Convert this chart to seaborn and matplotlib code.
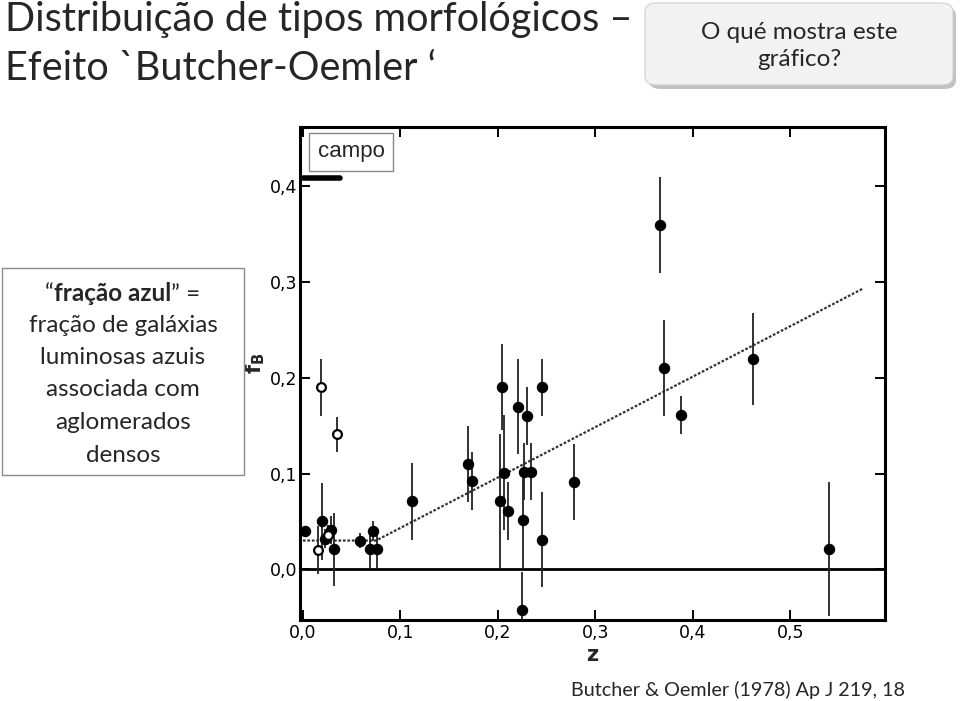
import numpy as np
import pandas as pd
import matplotlib
matplotlib.use("Agg")
import matplotlib.pyplot as plt
import seaborn as sns
from matplotlib.patches import FancyBboxPatch, Rectangle
from matplotlib.offsetbox import TextArea, HPacker, AnnotationBbox

# ---------------- data ----------------
z_filled = [0.002, 0.020, 0.023, 0.029, 0.032, 0.059, 0.069, 0.072, 0.076,
            0.112, 0.169, 0.173, 0.202, 0.204, 0.206, 0.210, 0.221, 0.225,
            0.226, 0.227, 0.230, 0.234, 0.245, 0.245, 0.278, 0.366, 0.370,
            0.388, 0.462, 0.540]
f_filled = [0.040, 0.050, 0.032, 0.041, 0.021, 0.030, 0.021, 0.040, 0.021,
            0.071, 0.110, 0.092, 0.071, 0.190, 0.101, 0.061, 0.170, -0.043,
            0.051, 0.102, 0.160, 0.102, 0.190, 0.031, 0.091, 0.360, 0.210,
            0.161, 0.220, 0.021]
e_filled = [0.004, 0.040, 0.010, 0.015, 0.038, 0.008, 0.020, 0.010, 0.020,
            0.040, 0.040, 0.030, 0.070, 0.045, 0.060, 0.030, 0.050, 0.040,
            0.050, 0.030, 0.030, 0.030, 0.030, 0.050, 0.040, 0.050, 0.050,
            0.020, 0.048, 0.070]

z_open = [0.015, 0.019, 0.026, 0.035]
f_open = [0.020, 0.190, 0.036, 0.141]
e_open = [0.025, 0.030, 0.010, 0.018]

# fitted trend (flat then rising) and reference lines
trend_z = [0.000, 0.075, 0.574]
trend_f = [0.030, 0.030, 0.293]
zero_z = [-0.003, 0.597]
zero_f = [0.0, 0.0]
field_z = [0.000, 0.038]
field_f = [0.409, 0.409]

x_ticks = [0.0, 0.1, 0.2, 0.3, 0.4, 0.5]
x_tick_labels = ["0,0", "0,1", "0,2", "0,3", "0,4", "0,5"]
y_ticks = [0.0, 0.1, 0.2, 0.3, 0.4]
y_tick_labels = ["0,0", "0,1", "0,2", "0,3", "0,4"]

title_lines = ["Distribuição de tipos morfológicos –", "Efeito `Butcher-Oemler ‘"]
question = "O qué mostra este\ngráfico?"
note_rest = ["fração de galáxias", "luminosas azuis", "associada com",
             "aglomerados", "densos"]
citation = "Butcher & Oemler (1978) Ap J 219, 18"

# ---------------- figure ----------------
sns.set_style("ticks")
plt.rcParams["font.family"] = ["DejaVu Sans"]

W, H = 960, 701
fig = plt.figure(figsize=(W / 100, H / 100), dpi=100)
fig.patch.set_facecolor("white")

def fx(px):
    return px / W

def fy(py):
    return 1 - py / H

ax = fig.add_axes([fx(300), fy(620), fx(885) - fx(300), fy(127) - fy(620)])

df_f = pd.DataFrame({"z": z_filled, "f": f_filled, "e": e_filled})
df_o = pd.DataFrame({"z": z_open, "f": f_open, "e": e_open})

# error bars
ax.errorbar(df_f["z"], df_f["f"], yerr=df_f["e"], fmt="none",
            ecolor="#222222", elinewidth=1.3, capsize=0, zorder=2)
ax.errorbar(df_o["z"], df_o["f"], yerr=df_o["e"], fmt="none",
            ecolor="#222222", elinewidth=1.3, capsize=0, zorder=2)

# lines
sns.lineplot(x=zero_z, y=zero_f, ax=ax, color="black", linewidth=2.0,
             sort=False, zorder=1)
sns.lineplot(x=trend_z, y=trend_f, ax=ax, color="#333333", linewidth=1.6,
             linestyle=(0, (1.2, 0.8)), sort=False, zorder=1)
sns.lineplot(x=field_z, y=field_f, ax=ax, color="black", linewidth=4,
             sort=False, zorder=3)

# points
sns.scatterplot(data=df_f, x="z", y="f", ax=ax, color="black", s=55,
                edgecolor="black", linewidth=0.8, zorder=4)
sns.scatterplot(data=df_o, x="z", y="f", ax=ax, color="white", s=40,
                edgecolor="black", linewidth=1.6, zorder=4)

ax.set_xlim(-0.003, 0.597)
ax.set_ylim(-0.053, 0.462)
ax.set_xticks(x_ticks)
ax.set_xticklabels(x_tick_labels)
ax.set_yticks(y_ticks)
ax.set_yticklabels(y_tick_labels)
ax.tick_params(direction="in", length=7, width=1.4, top=True, right=True,
               labelsize=12.5, colors="black", pad=3)
ax.tick_params(axis="y", pad=2)
for sp in ax.spines.values():
    sp.set_visible(True)
    sp.set_linewidth(2.2)
    sp.set_color("black")
ax.set_xlabel("z", fontsize=15, fontweight="bold", labelpad=2)
ax.set_ylabel(r"$\mathbf{f_B}$", fontsize=15)
ax.yaxis.set_label_coords(-0.056, 0.52)

# "campo" box inside the axes
fig.text(fx(351), fy(152), "campo", family="Liberation Sans", fontsize=16,
         ha="center", va="center",
         bbox=dict(boxstyle="square,pad=0.38", facecolor="white",
                   edgecolor="#888888", linewidth=1.0))

# ---------------- slide texts ----------------
fig.text(fx(5), fy(31), title_lines[0], family="Lato", fontsize=28.5,
         ha="left", va="baseline")
fig.text(fx(5), fy(80), title_lines[1], family="Lato", fontsize=28.5,
         ha="left", va="baseline")

# question box with shadow
shadow = FancyBboxPatch((fx(649), fy(89)), fx(956) - fx(649), fy(7) - fy(89),
                        boxstyle="round,pad=0,rounding_size=0.012",
                        transform=fig.transFigure, facecolor="#9a9a9a",
                        edgecolor="none", alpha=0.6, zorder=5)
box = FancyBboxPatch((fx(645), fy(85)), fx(953) - fx(645), fy(3) - fy(85),
                     boxstyle="round,pad=0,rounding_size=0.012",
                     transform=fig.transFigure, facecolor="#f2f2f2",
                     edgecolor="#d0d0d0", linewidth=0.8, zorder=6)
fig.add_artist(shadow)
fig.add_artist(box)
fig.text(fx(799), fy(46), question, family="Lato", fontsize=17.5,
         ha="center", va="center", linespacing=1.35, zorder=7)

# definition box
rect = Rectangle((fx(2), fy(475)), fx(244) - fx(2), fy(268) - fy(475),
                 transform=fig.transFigure, facecolor="white",
                 edgecolor="#8a8a8a", linewidth=1.0, zorder=5)
fig.add_artist(rect)
tp = dict(family="Lato", fontsize=17.5)
pieces = [TextArea("“", textprops=tp),
          TextArea("fração azul", textprops=dict(tp, weight="bold")),
          TextArea("” =", textprops=tp)]
hp = HPacker(children=pieces, align="baseline", pad=0, sep=0)
ab = AnnotationBbox(hp, (fx(123), fy(293)), xycoords="figure fraction",
                    frameon=False, box_alignment=(0.5, 0.5), zorder=6)
fig.add_artist(ab)
for i, line in enumerate(note_rest):
    fig.text(fx(123), fy(325 + 32.5 * i), line, ha="center", va="center",
             zorder=6, **tp)

fig.text(fx(738), fy(690), citation, family="Lato", fontsize=14.2,
         ha="center", va="center")

fig.savefig("out.png", dpi=100)
